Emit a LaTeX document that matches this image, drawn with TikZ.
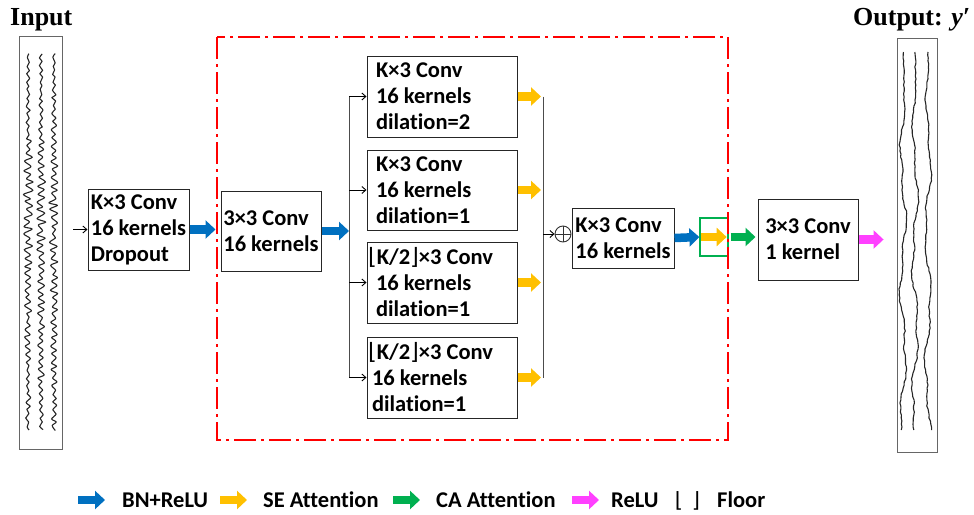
\documentclass[tikz,border=0pt]{standalone}
\usepackage{fontspec}
\setsansfont{Carlito}[Ligatures=NoCommon]
\newfontfamily\titlefont{Liberation Serif}
\newfontfamily\symfont{DejaVu Sans}
\usetikzlibrary{arrows.meta, calc}

\definecolor{bnblue}{HTML}{0070C0}
\definecolor{seyellow}{HTML}{FFC000}
\definecolor{cagreen}{HTML}{00B050}
\definecolor{relupink}{HTML}{FF40FF}
\definecolor{framered}{HTML}{FF0000}

\tikzset{
  layer/.style={draw=black!85, line width=1pt, fill=white, align=flush left, inner sep=0pt,
    font=\sffamily\bfseries\fontsize{22.5}{26}\selectfont},
  fat/.style={line width=8.5pt, -{Triangle[length=10pt,width=18pt]}},
  bnrelu/.style={fat, bnblue},
  searrow/.style={fat, seyellow},
  caarrow/.style={fat, cagreen},
  reluarrow/.style={fat, relupink},
  thinarrow/.style={line width=0.9pt, -{Straight Barb[length=4pt,width=7pt]}},
  wire/.style={line width=0.9pt, black!70},
  signal/.style={draw=black!60, line width=0.9pt, minimum width=43pt, minimum height=413pt},
  trace/.style={line width=1.1pt, black!85, line join=round},
  heading/.style={anchor=base west, inner sep=0pt, font=\titlefont\bfseries\fontsize{26}{30}\selectfont},
  legtext/.style={inner sep=0pt, font=\sffamily\bfseries\fontsize{22.5}{26}\selectfont},
}

\begin{document}
\begin{tikzpicture}[x=1pt, y=-1pt]
  \useasboundingbox (0,0) rectangle (974,514);

  % input and output signals
  \node[heading] (intitle) at (10,25) {Input};
  \node[heading] (outtitle) at (853,25) {Output: \textit{y}′};
  \node[signal] (in) at (40.5,242.5) {};
  \node[signal, minimum width=40pt, minimum height=414pt] (out) at (917,245) {};

  \pgfmathsetseed{11}
  \foreach \xo in {28,41,54}
    \draw[trace] plot[smooth, tension=0.5, variable=\t, domain=0:94, samples=95]
      ({\xo + (1-2*mod(round(\t),2))*(0.35+0.9*rnd)
        *(1.3 + 2.8*exp(-((4*\t-140)/70)^2) + 1.6*exp(-((4*\t-280)/90)^2))}, {54+4*\t+rand});
  \foreach \xo/\ph in {903/0,915/70,928/150}
    \draw[trace] plot[variable=\t, domain=0:126, samples=127]
      ({\xo + (1-exp(-\t/14))*(2.6*sin(8*\t+\ph) + 1.4*sin(21*\t+2*\ph)) + 0.6*rand}, {52+3*\t});

  % layers
  \node[layer, minimum width=101pt, minimum height=81pt] (k1) at (138.5,229.5)
    {K×3 Conv\\16 kernels\\Dropout};
  \node[layer, minimum width=100pt, minimum height=80pt] (c3) at (271,231)
    {3×3 Conv\\16 kernels};
  \node[layer, minimum width=150pt, minimum height=81pt, text width=132pt] (ka) at (442,96.5)
    {K×3 Conv\\16 kernels\\dilation=2};
  \node[layer, minimum width=150pt, minimum height=80pt, text width=132pt] (kb) at (442,190)
    {K×3 Conv\\16 kernels\\dilation=1};
  \node[layer, minimum width=150pt, minimum height=81pt, text width=132pt] (kc) at (442,282.5)
    {\hspace*{-8pt}{\symfont\mdseries ⌊}K/2{\symfont\mdseries ⌋}×3 Conv\\16 kernels\\dilation=1};
  \node[layer, minimum width=150pt, minimum height=81pt, text width=132pt] (kd) at (442,377.5)
    {\hspace*{-8pt}{\symfont\mdseries ⌊}K/2{\symfont\mdseries ⌋}×3 Conv\\\hspace*{-4pt}16 kernels\\\hspace*{-4pt}dilation=1};
  \node[circle, draw=black!80, line width=0.9pt, minimum size=16pt, inner sep=0pt] (sum) at (563,234) {};
  \draw[line width=0.9pt, black!80] (sum.north) -- (sum.south) (sum.west) -- (sum.east);
  \node[layer, minimum width=102pt, minimum height=60pt] (k3) at (623,238)
    {K×3 Conv\\16 kernels};
  \node[draw=cagreen, line width=1.3pt, minimum width=28pt, minimum height=38pt, inner sep=0pt] (se) at (714,237) {};
  \node[layer, minimum width=100pt, minimum height=81pt] (c1) at (808,239.5)
    {3×3 Conv\\1 kernel};

  % split and merge
  \coordinate (inarr) at (73,229.5);
  \coordinate (split) at (349,231);
  \coordinate (merge) at (543,234);

  \draw[thinarrow] (inarr) -- (k1.west);
  \draw[bnrelu, shorten >=5pt] (k1.east) -- (k1.east -| c3.west);
  \draw[bnrelu] (c3.east) -- (split);
  \draw[wire] (split |- ka) -- (split |- kd);
  \foreach \k in {ka,kb,kc,kd} {
    \draw[thinarrow] (split |- \k) -- (\k.west);
    \draw[searrow, shorten >=2pt] (\k.east) -- (merge |- \k);
  }
  \draw[wire] (merge |- ka) -- (merge |- kd);
  \draw[thinarrow] (merge) -- (sum.west);
  \draw[bnrelu] (k3.east) -- (se.west);
  \draw[searrow] ([xshift=2pt]se.west) -- ([xshift=-2pt]se.east);
  \draw[caarrow, shorten <=2pt, shorten >=2pt] (se.east) -- (se.east -| c1.west);
  \draw[reluarrow, shorten >=13pt] (c1.east) -- (c1.east -| out.west);

  % dash-dot block
  \draw[framered, line width=2.5pt, dash pattern=on 22pt off 5pt on 3pt off 5pt] (217,37) rectangle (728,440);

  % legend
  \foreach \sty/\xa/\xt/\txt [count=\i] in {bnrelu/78/122/BN+ReLU, searrow/220/263/SE Attention,
      caarrow/393/436/CA Attention, reluarrow/572/611/ReLU} {
    \coordinate (leg\i) at (\xa,500);
    \node[legtext, anchor=base west] (legt\i) at (\xt,507) {\txt};
    \draw[\sty] (leg\i) -- +(27,0);
  }
  \node[inner sep=0pt, anchor=base, font=\symfont\fontsize{21}{26}\selectfont] (floor) at (687.5,507) {⌊\hspace{9pt}⌋};
  \node[legtext, anchor=base west] (floortxt) at (717,507) {Floor};
\end{tikzpicture}
\end{document}
